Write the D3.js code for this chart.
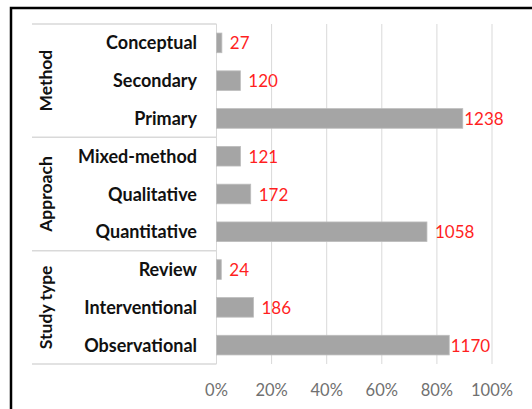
<!DOCTYPE html>
<html>
<head>
<meta charset="utf-8">
<script src="https://cdn.jsdelivr.net/npm/d3@7"></script>
<style>
  body { margin: 0; background: #fff; }
  svg { display: block; }
</style>
</head>
<body>
<svg id="chart" width="532" height="409"></svg>
<script>
// data
var groups = ['Method', 'Approach', 'Study type'];
var categories = ['Conceptual', 'Secondary', 'Primary',
                  'Mixed-method', 'Qualitative', 'Quantitative',
                  'Review', 'Interventional', 'Observational'];
var catGroup = ['Method', 'Method', 'Method',
                'Approach', 'Approach', 'Approach',
                'Study type', 'Study type', 'Study type'];
var counts = [27, 120, 1238, 121, 172, 1058, 24, 186, 1170];
var total = 1385;   // bars are shown as share of all studies
var ticks = [0, 0.2, 0.4, 0.6, 0.8, 1];

var svg = d3.select('#chart');
var font = 'Lato, "Noto Sans", sans-serif';

// note: "top" is a reserved window prop, so plot* names
var plotLeft = 216.5, plotRight = 492, plotTop = 24, plotBottom = 364;

var x = d3.scaleLinear().domain([0, 1]).range([plotLeft, plotRight]);
var y = d3.scaleBand().domain(categories).range([plotTop, plotBottom]).paddingInner(0.48).paddingOuter(0.24);
var band = (plotBottom - plotTop) / categories.length;

// frame (only top and left are visible in the crop)
svg.append('rect')
  .attr('x', 11).attr('y', 8)
  .attr('width', 560).attr('height', 440)
  .attr('fill', 'none')
  .attr('stroke', '#000')
  .attr('stroke-width', 2.5);

// gridlines
svg.append('g')
  .selectAll('line')
  .data(ticks)
  .join('line')
    .attr('x1', d => x(d)).attr('x2', d => x(d))
    .attr('y1', plotTop).attr('y2', plotBottom)
    .attr('stroke', '#d9d9d9')
    .attr('stroke-width', 1);

// tick labels
svg.append('g')
  .selectAll('text')
  .data(ticks)
  .join('text')
    .attr('x', d => x(d))
    .attr('y', 396)
    .attr('text-anchor', 'middle')
    .attr('font-family', font)
    .attr('font-size', 16.5)
    .attr('fill', '#707070')
    .text(d => d3.format('.0%')(d));

// group boxes on the category axis
var groupEdges = [0, 3, 6, 9];
svg.append('g')
  .selectAll('line')
  .data(groupEdges)
  .join('line')
    .attr('x1', 32).attr('x2', plotLeft)
    .attr('y1', d => plotTop + d * band).attr('y2', d => plotTop + d * band)
    .attr('stroke', '#d9d9d9')
    .attr('stroke-width', 1.5);

// bars
svg.append('g')
  .selectAll('rect')
  .data(categories)
  .join('rect')
    .attr('x', x(0))
    .attr('y', d => y(d))
    .attr('width', (d, i) => x(counts[i] / total) - x(0))
    .attr('height', y.bandwidth())
    .attr('fill', '#a5a5a5')
    .attr('stroke', '#bdbdbd')
    .attr('stroke-width', 0.8);

// value labels
svg.append('g')
  .selectAll('text')
  .data(categories)
  .join('text')
    .attr('x', (d, i) => {
      var share = counts[i] / total;
      return x(share) + (share > 0.8 ? 1.5 : 8);
    })
    .attr('y', d => y(d) + y.bandwidth() / 2 + 6.5)
    .attr('font-family', font)
    .attr('font-size', 17)
    .attr('fill', '#ff1f1f')
    .text((d, i) => counts[i]);

// category labels
svg.append('g')
  .selectAll('text')
  .data(categories)
  .join('text')
    .attr('x', 197)
    .attr('y', d => y(d) + y.bandwidth() / 2 + 6.5)
    .attr('text-anchor', 'end')
    .attr('font-family', font)
    .attr('font-weight', 'bold')
    .attr('font-size', 18)
    .attr('fill', '#111')
    .text(d => d);

// group labels, rotated
svg.append('g')
  .selectAll('text')
  .data(groups)
  .join('text')
    .attr('transform', (d, i) => {
      var cy = plotTop + (i * 3 + 1.5) * band;
      return 'translate(52,' + cy + ') rotate(-90)';
    })
    .attr('text-anchor', 'middle')
    .attr('font-family', font)
    .attr('font-weight', 'bold')
    .attr('font-size', 17.5)
    .attr('fill', '#111')
    .text(d => d);
</script>
</body>
</html>
